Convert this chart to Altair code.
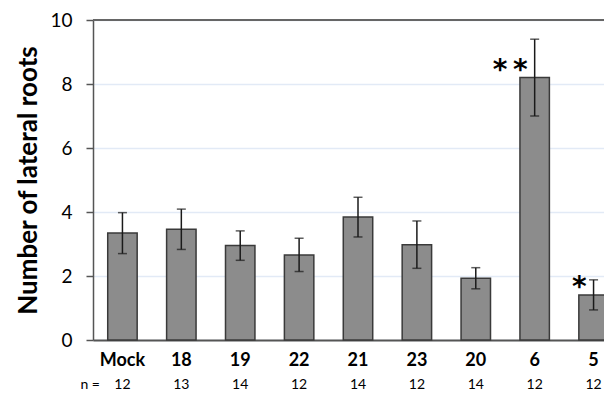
import altair as alt
import pandas as pd

groups = ["Mock", "18", "19", "22", "21", "23", "20", "6", "5"]
means = [3.34, 3.46, 2.95, 2.66, 3.84, 2.98, 1.93, 8.20, 1.41]
errors = [0.64, 0.63, 0.46, 0.52, 0.62, 0.74, 0.33, 1.20, 0.47]
n_values = ["12", "13", "14", "12", "14", "12", "14", "12", "12"]
stars = ["", "", "", "", "", "", "", "*\u2009*", "*"]

df = pd.DataFrame({
    "group": groups,
    "mean": means,
    "err": errors,
    "n": n_values,
    "star": stars,
})
df["lo"] = df["mean"] - df["err"]
df["hi"] = df["mean"] + df["err"]

FONT = "Lato"
W = 511
H = 320
TOP = 12
BOTTOM = 387 - TOP - H

xscale = alt.Scale(domain=groups, range=[0, 530], paddingInner=0.5, paddingOuter=0.25)
yscale = alt.Scale(domain=[0, 10])

x_enc = alt.X("group:N", scale=xscale, sort=groups,
              axis=alt.Axis(title=None, labelFont=FONT, labelFontSize=18, labelFontWeight="bold",
                            labelColor="black", labelAngle=0, ticks=False, labelPadding=11,
                            domainColor="#555555", domainWidth=2, grid=False))
y_enc = alt.Y("mean:Q", scale=yscale,
              axis=alt.Axis(title="Number of lateral roots", titleFont=FONT, titleFontSize=26,
                            titleFontWeight="bold", titleColor="black", titleX=-65, titleY=H / 2,
                            titleAngle=-90, titleAlign="center", titleBaseline="middle",
                            values=[0, 2, 4, 6, 8, 10], labelFont=FONT, labelFontSize=19,
                            labelColor="black", labelPadding=14, tickSize=7, tickColor="#555555",
                            tickWidth=1.5, domainColor="#555555", domainWidth=1.5,
                            grid=True, gridColor="#e2eaf6", gridWidth=1.5))

base = alt.Chart(df)

bars = base.mark_bar(fill="#8c8c8c", stroke="#3a3a3a", strokeWidth=1.5).encode(x=x_enc, y=y_enc)

err_rule = base.mark_rule(color="#1a1a1a", strokeWidth=1.5).encode(
    x=alt.X("group:N", scale=xscale, sort=groups),
    y=alt.Y("lo:Q", scale=yscale),
    y2="hi:Q",
)
cap_hi = base.mark_tick(color="#1a1a1a", thickness=1.5, size=9, orient="horizontal").encode(
    x=alt.X("group:N", scale=xscale, sort=groups),
    y=alt.Y("hi:Q", scale=yscale),
)
cap_lo = base.mark_tick(color="#1a1a1a", thickness=1.5, size=9, orient="horizontal").encode(
    x=alt.X("group:N", scale=xscale, sort=groups),
    y=alt.Y("lo:Q", scale=yscale),
)

star_text = base.transform_filter(alt.datum.star != "").mark_text(
    font="DejaVu Sans", fontSize=28, fontWeight="bold", align="right", baseline="alphabetic",
    dx=-7, dy=1.5, color="black"
).encode(
    x=alt.X("group:N", scale=xscale, sort=groups),
    y=alt.Y("mean:Q", scale=yscale),
    text="star:N",
)

n_text = base.mark_text(font=FONT, fontSize=14, color="black", baseline="middle").encode(
    x=alt.X("group:N", scale=xscale, sort=groups),
    y=alt.value(H + 45),
    text="n:N",
)

n_label = alt.Chart(pd.DataFrame({"t": ["n ="]})).mark_text(
    font=FONT, fontSize=14, color="black", baseline="middle", align="right"
).encode(x=alt.value(7), y=alt.value(H + 45), text="t:N")

top_line = alt.Chart(pd.DataFrame({"a": [0]})).mark_rule(color="#666666", strokeWidth=2).encode(
    x=alt.value(0), x2=alt.value(W + 10), y=alt.value(0)
)

chart = alt.layer(bars, err_rule, cap_hi, cap_lo, star_text, n_text, n_label, top_line).properties(
    width=W, height=H,
    autosize=alt.AutoSizeParams(type="none"),
    padding={"left": 85, "top": TOP, "right": 0, "bottom": BOTTOM},
).configure_view(stroke=None).configure(background="white")

chart.save("out.html", embed_options={"renderer": "svg", "actions": False})
